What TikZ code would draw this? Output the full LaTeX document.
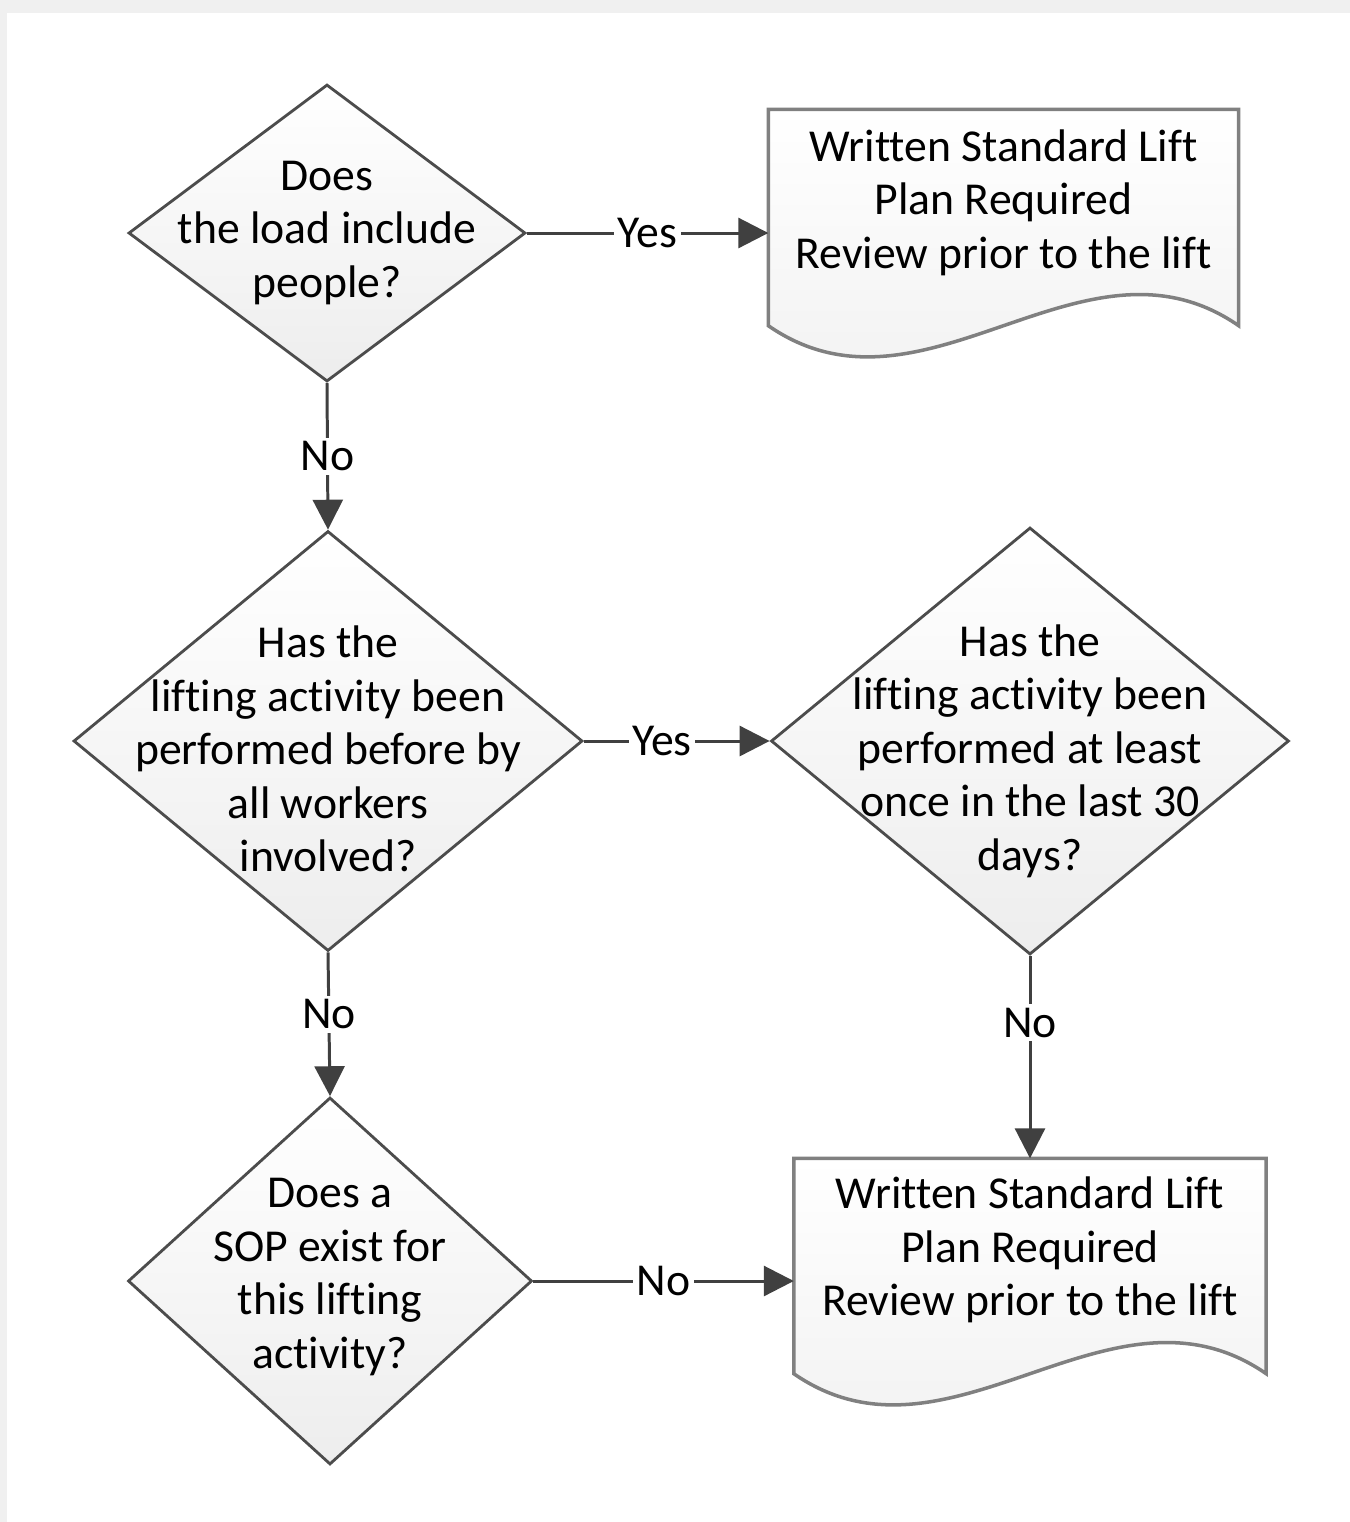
\documentclass[tikz,border=0pt]{standalone}
\usepackage{fontspec}
\setmainfont[Ligatures={NoCommon}]{Carlito}
\usetikzlibrary{shapes.geometric,arrows.meta,calc}

\begin{document}
\begin{tikzpicture}[x=0.1mm, y=-0.1mm,
  decision/.style={diamond, draw=black!70, line width=0.8pt, top color=white, bottom color=black!7, inner sep=0},
  docbox/.style={rectangle, inner sep=0},
  docline/.style={draw=black!50, line width=1pt, top color=white, bottom color=black!6},
  qtext/.style={align=center, font=\fontsize{13}{15.2}\selectfont},
  flow/.style={draw=black!75, line width=0.85pt, ->, >={Triangle[length=8.5pt,width=8.5pt]}},
  answer/.style={fill=white, inner sep=1pt, font=\fontsize{13}{15.2}\selectfont}]
\useasboundingbox (0,0) rectangle (1350,1522);
\fill[black!6] (0,0) rectangle (1350,1522);
\fill[white] (7,13) rectangle (1350,1522);

% decisions
\node[decision, minimum width=39.7mm, minimum height=29.7mm] (q1) at (327,233) {};
\node[decision, minimum width=50.9mm, minimum height=42mm] (q2) at (328,741) {};
\node[decision, minimum width=51.8mm, minimum height=42.7mm] (q3) at (1030,741) {};
\node[decision, minimum width=40.4mm, minimum height=36.7mm] (q4) at (330,1281) {};

\node[qtext] (q1txt) at (q1.center) {Does\\the load include\\people?};
\node[qtext] (q2txt) at ($(q2.center)+(0,8)$) {Has the\\lifting activity been\\performed before by\\all workers\\involved?};
\node[qtext] (q3txt) at ($(q3.center)+(0,10)$) {Has the\\lifting activity been\\performed at least\\once in the last 30\\days?};
\node[qtext] (q4txt) at ($(q4.center)+(0,-4)$) {Does a\\SOP exist for\\this lifting\\activity?};

% documents
\node[docbox, minimum width=46.9mm, minimum height=21.5mm] (doc1) at (1003.5,217.5) {};
\node[docbox, minimum width=47.1mm, minimum height=21.4mm] (doc2) at (1030,1266) {};
\foreach \d in {doc1, doc2} {
  \draw[docline] (\d.south east) -- (\d.north east) -- (\d.north west) -- (\d.south west)
    .. controls +(156,108) and +(-156,-108) .. (\d.south east) -- cycle;
}
\node[qtext] (doc1txt) at ($(doc1.center)+(0,-15)$) {Written Standard Lift\\Plan Required\\Review prior to the lift};
\node[qtext] (doc2txt) at ($(doc2.center)+(0,-16)$) {Written Standard Lift\\Plan Required\\Review prior to the lift};

% connectors
\draw[flow] (q1.east) -- node[answer]{Yes} (q1.east -| doc1.west);
\draw[flow] (q1.south) -- node[answer]{No} (q2.north);
\draw[flow] (q2.east) -- node[answer, pos=0.42]{Yes} (q3.west);
\draw[flow] (q2.south) -- node[answer, pos=0.43]{No} (q4.north);
\draw[flow] (q3.south) -- node[answer, pos=0.33]{No} (doc2.north);
\draw[flow] (q4.east) -- node[answer]{No} (q4.east -| doc2.west);
\end{tikzpicture}
\end{document}
